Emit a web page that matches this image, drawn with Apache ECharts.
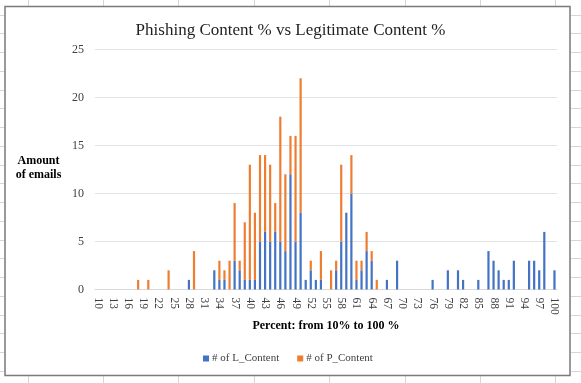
<!DOCTYPE html>
<html><head><meta charset="utf-8">
<script src="https://cdn.jsdelivr.net/npm/echarts@6/dist/echarts.min.js"></script>
<style>html,body{margin:0;padding:0;background:#fff}#c{width:581px;height:383px}</style>
</head><body><div id="c"></div>
<script>
const categories = [
  '10','11','12','13','14','15','16','17','18','19',
  '20','21','22','23','24','25','26','27','28','29',
  '30','31','32','33','34','35','36','37','38','39',
  '40','41','42','43','44','45','46','47','48','49',
  '50','51','52','53','54','55','56','57','58','59',
  '60','61','62','63','64','65','66','67','68','69',
  '70','71','72','73','74','75','76','77','78','79',
  '80','81','82','83','84','85','86','87','88','89',
  '90','91','92','93','94','95','96','97','98','99',
  '100'];
const lContent = [
  0,0,0,0,0,0,0,0,0,0,
  0,0,0,0,0,0,0,0,1,0,
  0,0,0,2,1,1,0,3,2,1,
  1,1,5,6,5,6,5,4,12,5,
  8,1,2,1,1,0,0,2,5,8,
  10,1,2,4,3,0,0,1,0,3,
  0,0,0,0,0,0,1,0,0,2,
  0,2,1,0,0,1,0,4,3,2,
  1,1,3,0,0,3,3,2,6,0,
  2];
const pContent = [
  0,0,0,0,0,0,0,0,1,0,
  1,0,0,0,2,0,0,0,0,4,
  0,0,0,0,2,1,3,6,1,6,
  12,7,9,8,8,3,13,8,4,11,
  14,0,1,0,3,0,2,1,8,0,
  4,2,1,2,1,1,0,0,0,0,
  0,0,0,0,0,0,0,0,0,0,
  0,0,0,0,0,0,0,0,0,0,
  0,0,0,0,0,0,0,0,0,0,
  0];
const yTicks = [0, 5, 10, 15, 20, 25];

const serif = "'Liberation Serif','Times New Roman',serif";
const sheetLine = '#d6d6d6';
const g = [];
// spreadsheet cell lines visible around the chart object
for (let k = 0; k < 8; k++) {
  const x = Math.round(27.5 + 75.4 * k) + 0.5;
  g.push({type:'line', shape:{x1:x,y1:0,x2:x,y2:6}, style:{stroke:sheetLine,lineWidth:1}, silent:true});
  g.push({type:'line', shape:{x1:x,y1:376,x2:x,y2:383}, style:{stroke:sheetLine,lineWidth:1}, silent:true});
}
for (let k = 0; k < 20; k++) {
  const y = Math.round(14.7 + 18.74 * k) + 0.5;
  g.push({type:'line', shape:{x1:0,y1:y,x2:4,y2:y}, style:{stroke:sheetLine,lineWidth:1}, silent:true});
  g.push({type:'line', shape:{x1:571,y1:y,x2:581,y2:y}, style:{stroke:sheetLine,lineWidth:1}, silent:true});
}
g.push({type:'rect', shape:{x:5,y:6.5,width:565,height:369}, style:{fill:'none',stroke:'#7a7a7a',lineWidth:1.5}, silent:true});
g.push({type:'text', x:38.5, y:168, style:{text:'Amount\nof emails', font:"bold 12px " + serif, fill:'#000', align:'center', verticalAlign:'middle', lineHeight:14}, silent:true});
g.push({type:'text', x:326, y:326, style:{text:'Percent: from 10% to 100 %', font:"bold 12px " + serif, fill:'#000', align:'center', verticalAlign:'middle'}, silent:true});

const chart = echarts.init(document.getElementById('c'), null, {renderer:'canvas'});
chart.setOption({
  animation:false,
  backgroundColor:'#fff',
  title:{text:'Phishing Content % vs Legitimate Content %', left:'center', top:17,
    textStyle:{fontFamily:serif, fontSize:17, fontWeight:'normal', color:'#1f1f1f'}},
  legend:{left:198, top:348, icon:'rect', itemWidth:6, itemHeight:6, itemGap:18,
    textStyle:{fontFamily:serif, fontSize:11, color:'#404040', padding:[0,0,0,-2]}},
  grid:{left:95, right:24, top:49.5, bottom:93.5},
  xAxis:{type:'category', data:categories,
    axisLine:{lineStyle:{color:'#d9d9d9'}}, axisTick:{show:false},
    axisLabel:{interval:2, rotate:-90, fontFamily:serif, fontSize:11.5, color:'#404040', margin:8}},
  yAxis:{type:'value', min:yTicks[0], max:yTicks[yTicks.length-1], interval:5,
    axisLine:{show:false}, axisTick:{show:false},
    axisLabel:{fontFamily:serif, fontSize:12, color:'#404040', margin:11},
    splitLine:{lineStyle:{color:'#e3e3e3'}}},
  series:[
    {name:'# of L_Content', type:'bar', stack:'t', data:lContent, barWidth:2.2, itemStyle:{color:'#4472C4'}},
    {name:'# of P_Content', type:'bar', stack:'t', data:pContent, barWidth:2.2, itemStyle:{color:'#ED7D31'}}
  ],
  graphic:g
});
</script></body></html>
